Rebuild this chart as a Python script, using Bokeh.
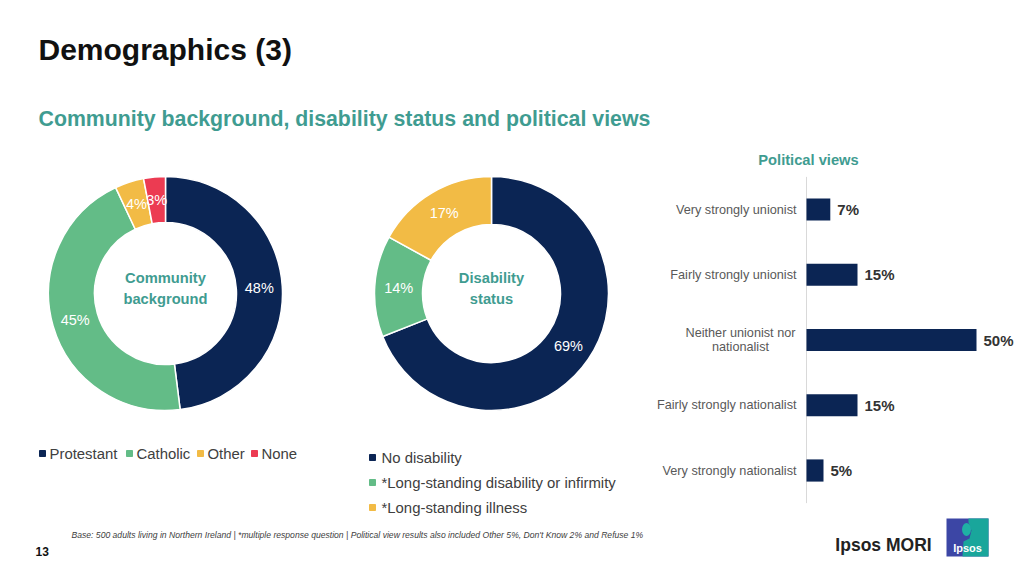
import numpy as np
from bokeh.plotting import figure
from bokeh.models import Range1d, ColumnDataSource
from bokeh.core.properties import value
from bokeh.embed import file_html
from bokeh.resources import INLINE

# ---------------- data ----------------
community_labels = ["Protestant", "Catholic", "Other", "None"]
community_values = [48, 45, 4, 3]

disability_labels = ["No disability", "*Long-standing disability or infirmity", "*Long-standing illness"]
disability_values = [69, 14, 17]

political_labels = ["Very strongly unionist", "Fairly strongly unionist",
                    "Neither unionist nor\nnationalist", "Fairly strongly nationalist",
                    "Very strongly nationalist"]
political_values = [7, 15, 50, 15, 5]

title_text = "Demographics (3)"
subtitle_text = "Community background, disability status and political views"
footnote_text = ("Base: 500 adults living in Northern Ireland | *multiple response question | "
                 "Political view results also included Other 5%, Don't Know 2% and Refuse 1%")

# ---------------- style ----------------
NAVY = "#0b2554"
GREEN = "#63bc87"
YELLOW = "#f2bb45"
RED = "#ec3b52"
TEAL = "#3f9c91"
GREY = "#595959"
DARK = "#333333"
FONT = "Liberation Sans"

community_colors = [NAVY, GREEN, YELLOW, RED]
disability_colors = [NAVY, GREEN, YELLOW]

W, H = 1016, 568
# canvas: data coordinates == page pixels (y negated)
p = figure(width=W, height=H, x_range=Range1d(0, W), y_range=Range1d(-H, 0),
           output_backend="svg", toolbar_location=None, min_border=0,
           x_axis_location=None, y_axis_location=None)
p.grid.visible = False
p.outline_line_color = None
p.background_fill_color = "white"
p.border_fill_color = "white"


def txt(x, y, s, size, color, bold=False, italic=False, align="left", baseline="middle", font=FONT, **kw):
    style = "bold italic" if (bold and italic) else ("bold" if bold else ("italic" if italic else "normal"))
    p.text(x=[x], y=[-y], text=[s], text_font=value(font), text_font_size=f"{size}px",
           text_color=color, text_font_style=style, text_align=align, text_baseline=baseline, **kw)


# ---------------- titles ----------------
txt(38, 49, title_text, 30, "#111111", bold=True)
txt(38, 118, subtitle_text, 21.3, TEAL, bold=True)


# ---------------- donuts ----------------
def donut(cx, cy, values, colors, r_in, r_out, center_label):
    vals = np.array(values, dtype=float)
    frac = vals / vals.sum()
    cum = np.concatenate([[0.0], np.cumsum(frac)])
    start = np.pi / 2 - 2 * np.pi * cum[:-1]
    end = np.pi / 2 - 2 * np.pi * cum[1:]
    src = ColumnDataSource(dict(start=start, end=end, color=colors))
    p.annular_wedge(x=cx, y=-cy, inner_radius=r_in, outer_radius=r_out,
                    inner_radius_units="screen", outer_radius_units="screen",
                    start_angle="start", end_angle="end", direction="clock",
                    fill_color="color", line_color="white", line_width=1.5, source=src)
    mid = (cum[:-1] + cum[1:]) / 2
    ang = np.pi / 2 - 2 * np.pi * mid
    rl = (r_in + r_out) / 2
    lsrc = ColumnDataSource(dict(x=cx + rl * np.cos(ang), y=-cy + rl * np.sin(ang),
                                 t=[f"{v}%" for v in values]))
    p.text(x="x", y="y", text="t", source=lsrc, text_font=value(FONT), text_font_size="14.5px",
           text_color="white", text_align="center", text_baseline="middle")
    txt(cx, cy - 5, center_label, 14.7, TEAL, bold=True, align="center", text_line_height=1.3)


donut(165, 293, community_values, community_colors, 71, 117, "Community\nbackground")
donut(491, 293, disability_values, disability_colors, 69, 117, "Disability\nstatus")

# ---------------- legends ----------------
leg1_x = [42, 129, 200, 254]
p.scatter(x=leg1_x, y=[-453] * 4, marker="square", size=6, color=community_colors)
for xx, lab in zip(leg1_x, community_labels):
    txt(xx + 7, 453, lab, 14.9, "#404040")

leg2_y = [457, 482, 507]
p.scatter(x=[372] * 3, y=[-yy for yy in leg2_y], marker="square", size=6, color=disability_colors)
for yy, lab in zip(leg2_y, disability_labels):
    txt(381, yy, lab, 14.9, "#404040")

# ---------------- political views bars ----------------
px_per_pct = 3.4
x0_px = 806
row0_px = 209
row_step = 65.25
p.extra_x_ranges = {"bx": Range1d((0 - x0_px) / px_per_pct, (W - x0_px) / px_per_pct)}
p.extra_y_ranges = {"by": Range1d((H - row0_px) / row_step, (0 - row0_px) / row_step)}

idx = list(range(len(political_values)))
multi = ["\n" in s for s in political_labels]
bsrc = ColumnDataSource(dict(y=idx, v=political_values, lab=political_labels,
                             vt=[f"{v}%" for v in political_values],
                             al=["center" if m else "right" for m in multi],
                             xo=[-66 if m else -10 for m in multi]))
p.segment(x0=0, x1=0, y0=-0.5, y1=len(idx) - 0.5, line_color="#d9d9d9", line_width=1,
          x_range_name="bx", y_range_name="by")
p.hbar(y="y", left=0, right="v", height=0.34, fill_color=NAVY, line_color=None,
       source=bsrc, x_range_name="bx", y_range_name="by")
p.text(x="v", y="y", text="vt", source=bsrc, x_offset=7, text_font=value(FONT),
       text_font_size="15px", text_font_style="bold", text_color=DARK,
       text_align="left", text_baseline="middle", x_range_name="bx", y_range_name="by")
p.text(x=0, y="y", text="lab", source=bsrc, x_offset="xo", text_font=value(FONT),
       text_font_size="12.7px", text_color=GREY, text_align="al", text_baseline="middle",
       text_line_height=1.0, x_range_name="bx", y_range_name="by")
txt(808, 159, "Political views", 14.7, TEAL, bold=True, align="center")

# ---------------- footer ----------------
txt(71, 534, footnote_text, 8.6, "#404040", italic=True)
txt(35, 551, "13", 12, "#111111", bold=True)

# logo
txt(883, 544, "Ipsos MORI", 17.5, "#222222", bold=True, align="center")
p.quad(left=946, right=988, top=-518, bottom=-556, fill_color="#3c46a5", line_color=None)
p.patch(x=[968, 988, 988, 962, 963, 969, 971, 968],
        y=[-518, -518, -556, -556, -541, -538, -530, -522],
        fill_color="#19a69b", line_color=None)
p.ellipse(x=966, y=-529, width=9, height=13, fill_color="#1fb0a4", line_color=None)
txt(967, 547, "Ipsos", 11, "white", bold=True, align="center")

open("out.html", "w").write(file_html(p, INLINE))
